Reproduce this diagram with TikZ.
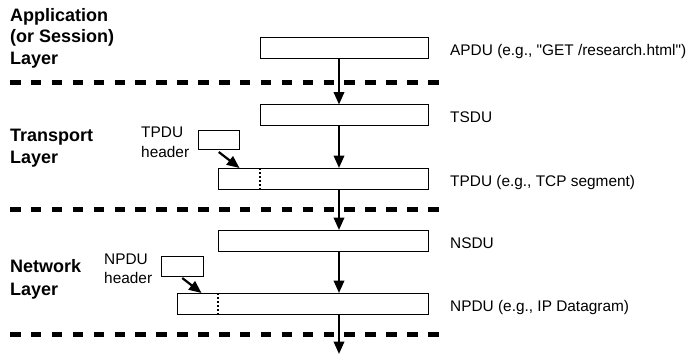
\documentclass[tikz,border=0pt]{standalone}
\usepackage{fontspec}
\setmainfont{Liberation Sans}[Ligatures=TeXOff]
\usetikzlibrary{arrows.meta}

\begin{document}
\begin{tikzpicture}[x=1pt,y=-1pt,
  pdu/.style={draw=black, line width=1pt, fill=white, minimum height=21pt,
              inner sep=0pt, outer sep=0pt, anchor=north west},
  hdrbox/.style={pdu, minimum width=41.5pt, minimum height=19.5pt},
  flow/.style={line width=2.2pt, -{Triangle[width=10.5pt,length=12.5pt]}},
  layerline/.style={line width=5pt, dash pattern=on 10.5pt off 10.4pt},
  hdrsep/.style={line width=2pt, dash pattern=on 2.2pt off 1.8pt},
  lbl/.style={font=\fontsize{15.4}{18}\selectfont, inner sep=0pt, anchor=base west},
  layer/.style={font=\fontsize{18}{21.6}\selectfont\bfseries, inner sep=0pt, anchor=base west}]

\useasboundingbox (0,0) rectangle (688,356);

% layer boundaries
\draw[layerline] (10,82.5) -- (438.5,82.5);
\draw[layerline] (10,209.5) -- (438.5,209.5);
\draw[layerline] (10,334) -- (438.5,334);

% layer names
\node[layer] (app1) at (10,21) {Application};
\node[layer] (app2) at (10,42.5) {(or Session)};
\node[layer] (app3) at (10,64) {Layer};
\node[layer] (tr1) at (10,141) {Transport};
\node[layer] (tr2) at (10,163) {Layer};
\node[layer] (nw1) at (10,272) {Network};
\node[layer] (nw2) at (10,295) {Layer};

% data units
\node[pdu, minimum width=168pt] (apdu) at (260,37.5) {};
\node[pdu, minimum width=168pt] (tsdu) at (260,104.5) {};
\node[pdu, minimum width=210pt] (tpdu) at (218,168) {};
\node[pdu, minimum width=210pt] (nsdu) at (218,230) {};
\node[pdu, minimum width=251pt] (npdu) at (177,293) {};

% headers
\node[hdrbox] (thdr) at (198,130) {};
\node[hdrbox] (nhdr) at (161.5,256.5) {};
\node[lbl] (thdrA) at (141,137) {TPDU};
\node[lbl] (thdrB) at (141,157) {header};
\node[lbl] (nhdrA) at (104,264) {NPDU};
\node[lbl] (nhdrB) at (104,283.5) {header};

% header / payload boundaries
\draw[hdrsep] ([xshift=42pt]tpdu.north west) -- ([xshift=42pt]tpdu.south west);
\draw[hdrsep] ([xshift=41pt]npdu.north west) -- ([xshift=41pt]npdu.south west);

% unit names
\node[lbl] (apduL) at (450,55.5) {APDU (e.g., "GET /research.html")};
\node[lbl] (tsduL) at (450,122.7) {TSDU};
\node[lbl] (tpduL) at (450,186.5) {TPDU (e.g., TCP segment)};
\node[lbl] (nsduL) at (450,248.5) {NSDU};
\node[lbl] (npduL) at (450,311.5) {NPDU (e.g., IP Datagram)};

% downward flow
\coordinate (ax) at (339,0);
\coordinate (out) at (339,354);
\draw[flow] (apdu.south -| ax) -- (tsdu.north -| ax);
\draw[flow] (tsdu.south -| ax) -- (tpdu.north -| ax);
\draw[flow] (tpdu.south -| ax) -- (nsdu.north -| ax);
\draw[flow] (nsdu.south -| ax) -- (npdu.north -| ax);
\draw[flow] (npdu.south -| ax) -- (out);

% headers prepended
\draw[flow] ([yshift=-2.5pt]thdr.south) -- ([xshift=21.5pt]tpdu.north west);
\draw[flow] ([yshift=-2pt]nhdr.south) -- ([xshift=24.5pt]npdu.north west);
\end{tikzpicture}
\end{document}
